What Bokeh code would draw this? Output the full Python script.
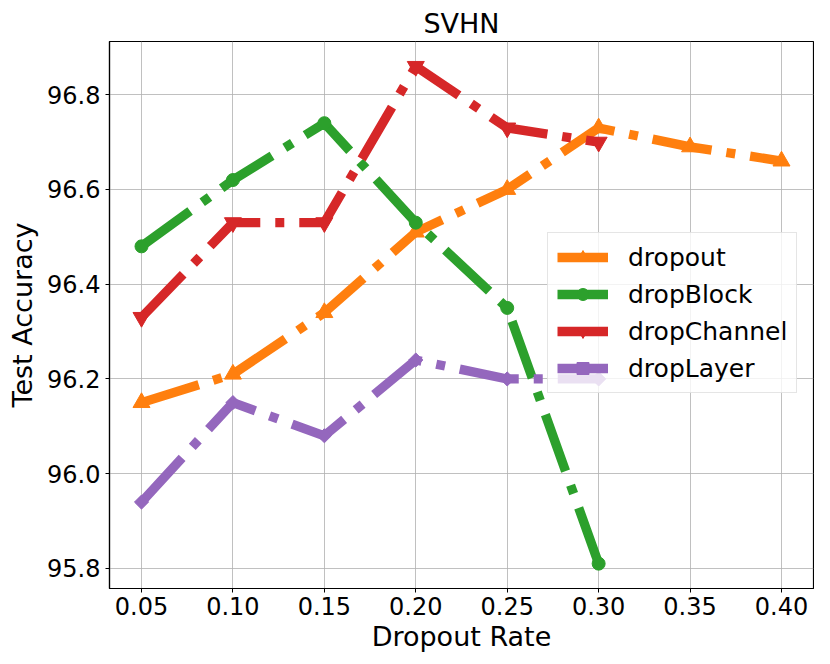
import numpy as np
from bokeh.plotting import figure
from bokeh.models import FixedTicker, Range1d, Legend, LegendItem
from bokeh.embed import file_html
from bokeh.resources import INLINE

rates = [0.05, 0.10, 0.15, 0.20, 0.25, 0.30, 0.35, 0.40]
dropout = [96.15, 96.21, 96.34, 96.51, 96.60, 96.73, 96.69, 96.66]
dropblock_x = [0.05, 0.10, 0.15, 0.20, 0.25, 0.30]
dropblock = [96.48, 96.62, 96.74, 96.53, 96.35, 95.81]
dropchannel = [96.33, 96.53, 96.53, 96.86, 96.73, 96.70]
droplayer = [95.94, 96.15, 96.08, 96.24, 96.20, 96.20]
x_ticks = [0.05, 0.10, 0.15, 0.20, 0.25, 0.30, 0.35, 0.40]
x_tick_labels = ["0.05", "0.10", "0.15", "0.20", "0.25", "0.30", "0.35", "0.40"]
y_ticks = [95.8, 96.0, 96.2, 96.4, 96.6, 96.8]
y_tick_labels = ["95.8", "96.0", "96.2", "96.4", "96.6", "96.8"]

FONT = "DejaVu Sans"

p = figure(frame_width=704, frame_height=547, output_backend="svg", toolbar_location=None,
           x_range=Range1d(0.0325, 0.4175), y_range=Range1d(95.7575, 96.9125),
           title="SVHN", min_border_left=109, min_border_right=1, min_border_top=41,
           min_border_bottom=60)
p.title.text_font = FONT
p.title.text_font_size = "27px"
p.title.text_font_style = "normal"
p.title.text_color = "black"
p.title.align = "center"
p.title.standoff = 6
p.title.offset = 0

p.background_fill_color = "white"
p.border_fill_color = "white"
p.outline_line_color = "black"
p.outline_line_width = 1.2

for ax in (p.xaxis[0], p.yaxis[0]):
    ax.axis_line_color = "black"
    ax.axis_line_width = 1.2
    ax.major_tick_out = 4
    ax.major_tick_in = 0
    ax.minor_tick_line_color = None
    ax.major_label_text_font = FONT
    ax.major_label_text_font_size = "24px"
    ax.axis_label_text_font = FONT
    ax.axis_label_text_font_size = "27px"
    ax.axis_label_text_font_style = "normal"
    ax.major_label_text_color = "black"
    ax.axis_label_text_color = "black"

p.xaxis.ticker = FixedTicker(ticks=x_ticks)
p.xaxis.major_label_overrides = {t: l for t, l in zip(x_ticks, x_tick_labels)}
p.yaxis.ticker = FixedTicker(ticks=y_ticks)
p.yaxis.major_label_overrides = {t: l for t, l in zip(y_ticks, y_tick_labels)}
p.xaxis.axis_label = "Dropout Rate"
p.yaxis.axis_label = "Test Accuracy"
p.xaxis.major_label_standoff = 4
p.yaxis.major_label_standoff = 5
p.xaxis.axis_label_standoff = 3
p.yaxis.axis_label_standoff = 6

p.grid.grid_line_color = "#b0b0b0"
p.grid.grid_line_width = 1
p.grid.grid_line_alpha = 0.8

LW = 9.3
DASH = "60 15 9 15"
series = [
    ("dropout", rates, dropout, "#ff7f0e", "triangle", 17, 0),
    ("dropBlock", dropblock_x, dropblock, "#2ca02c", "circle", 13, 0),
    ("dropChannel", dropblock_x, dropchannel, "#d62728", "inverted_triangle", 17, 0),
    ("dropLayer", dropblock_x, droplayer, "#9467bd", "square", 10, np.pi / 4),
]

items = []
for name, xs, ys, color, marker, size, ang in series:
    l = p.line(xs, ys, line_color=color, line_width=LW, line_dash=DASH, line_cap="butt",
               line_join="round")
    s = p.scatter(xs, ys, marker=marker, size=size, angle=ang, fill_color=color,
                  line_color=color, line_width=1)
    items.append(LegendItem(label=name, renderers=[l, s]))

legend = Legend(items=items, location=(438, 195))
legend.label_text_font = FONT
legend.label_text_font_size = "25px"
legend.label_text_color = "black"
legend.glyph_width = 51
legend.glyph_height = 30
legend.label_height = 30
legend.label_standoff = 20
legend.spacing = 7
legend.padding = 9
legend.margin = 0
legend.border_line_color = "#cccccc"
legend.border_line_width = 1
legend.background_fill_color = "white"
legend.background_fill_alpha = 0.8
p.add_layout(legend, "center")

open("out.html", "w").write(file_html(p, INLINE))
